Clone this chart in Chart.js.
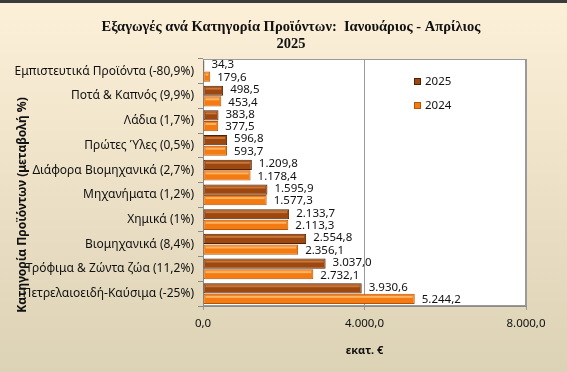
<!DOCTYPE html>
<html lang="el">
<head>
<meta charset="UTF-8">
<title>Εξαγωγές ανά Κατηγορία Προϊόντων</title>
<script src="https://cdn.jsdelivr.net/npm/chart.js"></script>
<style>
  html, body { margin: 0; padding: 0; background: #efe4c9; }
  canvas { display: block; }
</style>
</head>
<body>
<canvas id="grafico" width="567" height="372"></canvas>
<script>
// dados (εκατ. €), από πάνω προς τα κάτω
const categorias = [
  'Εμπιστευτικά Προϊόντα (-80,9%)',
  'Ποτά & Καπνός (9,9%)',
  'Λάδια (1,7%)',
  'Πρώτες Ύλες (0,5%)',
  'Διάφορα Βιομηχανικά (2,7%)',
  'Μηχανήματα (1,2%)',
  'Χημικά (1%)',
  'Βιομηχανικά (8,4%)',
  'Τρόφιμα & Ζώντα ζώα (11,2%)',
  'Πετρελαιοειδή-Καύσιμα (-25%)'
];
const valores2025 = [34.3, 498.5, 383.8, 596.8, 1209.8, 1595.9, 2133.7, 2554.8, 3037.0, 3930.6];
const valores2024 = [179.6, 453.4, 377.5, 593.7, 1178.4, 1577.3, 2113.3, 2356.1, 2732.1, 5244.2];
const anos = ['2025', '2024'];
const ticksX = [0, 4000, 8000];

const titulo = ['Εξαγωγές ανά Κατηγορία Προϊόντων:  Ιανουάριος - Απρίλιος', '2025'];
const tituloY = 'Κατηγορία Προϊόντων (μεταβολή %)';
const tituloX = 'εκατ. €';

const cores = {
  '2025': { fundo: '#9c4810', borda: '#4f2104', brilho: '#c97638' },
  '2024': { fundo: '#f47b12', borda: '#b5550a', brilho: '#ffb564' }
};

// 1.209,8
function formatar(v) {
  const partes = v.toFixed(1).split('.');
  partes[0] = partes[0].replace(/\B(?=(\d{3})+(?!\d))/g, '.');
  return partes.join(',');
}

const fonte = 'Noto Sans';

const desenhos = {
  id: 'desenhos',
  beforeDraw(chart) {
    const ctx = chart.ctx;
    const a = chart.chartArea;
    ctx.save();
    const g = ctx.createLinearGradient(0, 0, 0, chart.height);
    g.addColorStop(0, '#fdf0d9');
    g.addColorStop(1, '#dcd2b5');
    ctx.fillStyle = g;
    ctx.fillRect(0, 0, chart.width, chart.height);
    ctx.fillStyle = '#3c3c3c';
    ctx.fillRect(0, 0, chart.width, 3);
    ctx.fillStyle = '#ffffff';
    ctx.fillRect(a.left, a.top, a.right - a.left, a.bottom - a.top);
    ctx.strokeStyle = '#9a9a9a';
    ctx.lineWidth = 1;
    ctx.strokeRect(a.left + 0.5, a.top + 0.5, a.right - a.left - 1, a.bottom - a.top - 1);
    ctx.restore();
  },
  afterDatasetsDraw(chart) {
    const ctx = chart.ctx;
    ctx.save();
    chart.data.datasets.forEach((ds, i) => {
      const meta = chart.getDatasetMeta(i);
      const c = cores[ds.label];
      meta.data.forEach((bar, j) => {
        const h = bar.height;
        const comp = bar.x - bar.base;
        // brilho
        if (comp > 4) {
          ctx.fillStyle = c.brilho;
          ctx.fillRect(bar.base + 2, bar.y - h / 2 + 2, comp - 4, 2);
        }
        // valor
        ctx.fillStyle = '#111';
        ctx.font = '11.5px "' + fonte + '"';
        ctx.textAlign = 'left';
        ctx.textBaseline = 'middle';
        const dy = i === 0 ? -1 : 1;
        ctx.fillText(formatar(ds.data[j]), bar.x + 7, bar.y + dy);
      });
    });
    ctx.restore();
  },
  afterDraw(chart) {
    const ctx = chart.ctx;
    ctx.save();
    // título
    ctx.fillStyle = '#111';
    ctx.font = 'bold 14.5px "Liberation Serif"';
    ctx.textAlign = 'center';
    ctx.textBaseline = 'middle';
    ctx.fillText(titulo[0], 291, 27);
    ctx.fillText(titulo[1], 291, 44);
    // título do eixo y
    ctx.translate(23, 205);
    ctx.rotate(-Math.PI / 2);
    ctx.font = 'bold 12px "' + fonte + '"';
    ctx.fillText(tituloY, 0, 0);
    ctx.setTransform(1, 0, 0, 1, 0, 0);
    // legenda
    anos.forEach((ano, k) => {
      const y = 82 + k * 24;
      const c = cores[ano];
      ctx.fillStyle = c.fundo;
      ctx.fillRect(414, y - 4, 7, 7);
      ctx.strokeStyle = c.borda;
      ctx.strokeRect(414.5, y - 3.5, 6, 6);
      ctx.fillStyle = '#111';
      ctx.font = '11.5px "' + fonte + '"';
      ctx.textAlign = 'left';
      ctx.fillText(ano, 425, y);
    });
    ctx.restore();
  }
};

new Chart(document.getElementById('grafico'), {
  type: 'bar',
  data: {
    labels: categorias,
    datasets: [
      {
        label: anos[0],
        data: valores2025,
        backgroundColor: cores['2025'].fundo,
        borderColor: cores['2025'].borda,
        borderWidth: 1,
        borderSkipped: false,
        categoryPercentage: 0.86,
        barPercentage: 0.96
      },
      {
        label: anos[1],
        data: valores2024,
        backgroundColor: cores['2024'].fundo,
        borderColor: cores['2024'].borda,
        borderWidth: 1,
        borderSkipped: false,
        categoryPercentage: 0.86,
        barPercentage: 0.96
      }
    ]
  },
  options: {
    indexAxis: 'y',
    responsive: false,
    animation: false,
    layout: { padding: { top: 59, left: 0, right: 41, bottom: 0 } },
    plugins: {
      legend: { display: false },
      title: { display: false },
      tooltip: { enabled: false }
    },
    scales: {
      x: {
        min: 0,
        max: 8000,
        afterBuildTicks(scale) { scale.ticks = ticksX.map(v => ({ value: v })); },
        afterFit(scale) { scale.height = 66; },
        ticks: {
          color: '#111',
          padding: 7,
          font: { family: fonte, size: 11.5 },
          callback: v => formatar(v)
        },
        grid: { color: '#9a9a9a', tickLength: 4 },
        border: { color: '#8a8a8a' },
        title: {
          display: true,
          text: tituloX,
          color: '#111',
          font: { family: fonte, size: 11, weight: 'bold' },
          padding: { top: 4, bottom: 15 }
        }
      },
      y: {
        afterFit(scale) { scale.width = 203; },
        ticks: {
          color: '#111',
          padding: 4,
          autoSkip: false,
          font: { family: fonte, size: 12 }
        },
        grid: { offset: true, drawOnChartArea: false, tickLength: 5, color: '#8a8a8a' },
        border: { color: '#8a8a8a' }
      }
    }
  },
  plugins: [desenhos]
});
</script>
</body>
</html>
